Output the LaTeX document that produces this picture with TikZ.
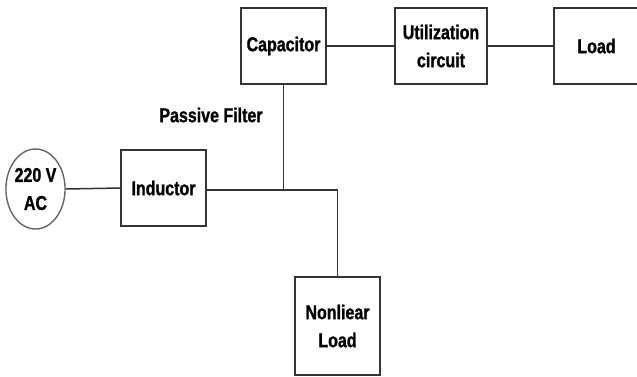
\documentclass[tikz,border=0pt]{standalone}
\usepackage{fontspec}
\newfontfamily\diagfont[FakeStretch=0.8, BoldFeatures={FakeBold=1.2}]{Liberation Sans}
\usetikzlibrary{positioning, shapes.geometric}
\definecolor{wire}{HTML}{333333}

\begin{document}
\begin{tikzpicture}[
    x=1pt, y=-1pt,
    every node/.style={font=\diagfont\bfseries\fontsize{20}{28}\selectfont},
    blk/.style={draw=wire, line width=1.4pt, align=center, inner sep=0pt,
                minimum width=85pt, minimum height=76pt},
    src/.style={draw=wire!75, line width=1.4pt, ellipse, align=center, inner sep=0pt,
                minimum width=55pt, minimum height=80pt},
    wr/.style={wire, line width=1.5pt},
]
\useasboundingbox (0,0) rectangle (637,376);
% source and series inductor
\node[src] (ac) at (35.5,189) {220 V\\AC};
\node[blk] (ind) at (163.5,188) {Inductor};
% shunt capacitor and downstream blocks
\node[blk] (cap) at (283.5,46) {Capacitor};
\node[blk, minimum width=92pt] (util) at (441,46) {Utilization\\circuit};
\node[blk] (load) at (596.5,46) {Load};
\node[blk, minimum height=98pt] (nl) at (337.5,326) {Nonliear\\Load};
\node (pf) at (211,115) {Passive Filter};
% wiring
\coordinate (J) at (cap.south |- 0,190);
\draw[wr] (ac.east) -- (ind.west);
\draw[wr] (ind.east |- J) -- (J);
\draw[wr] (cap.south) -- (J);
\draw[wr] (J) -| (nl.north);
\draw[wr] (cap.east) -- (util.west);
\draw[wr] (util.east) -- (load.west);
\end{tikzpicture}
\end{document}
